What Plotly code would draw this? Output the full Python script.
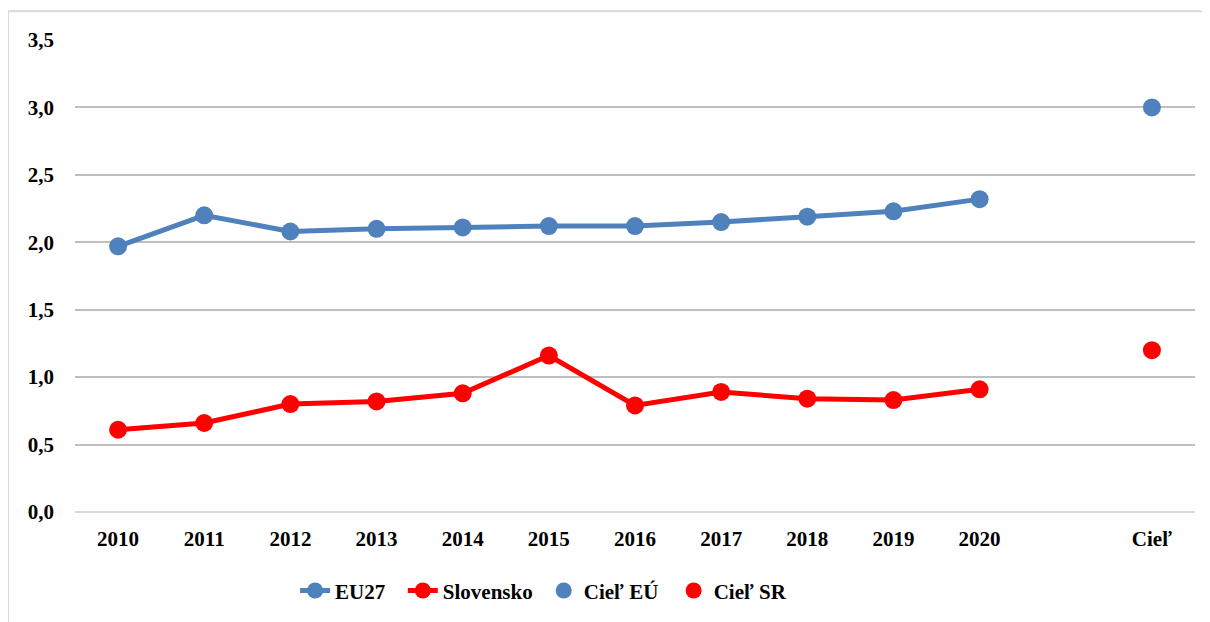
import plotly.graph_objects as go

years = ["2010", "2011", "2012", "2013", "2014", "2015", "2016", "2017", "2018", "2019", "2020"]
gap_label = " "
goal_label = "Cieľ"
categories = years + [gap_label, goal_label]

eu27 = [1.97, 2.20, 2.08, 2.10, 2.11, 2.12, 2.12, 2.15, 2.19, 2.23, 2.32]
slovensko = [0.61, 0.66, 0.80, 0.82, 0.88, 1.16, 0.79, 0.89, 0.84, 0.83, 0.91]
ciel_eu = [3.0]
ciel_sr = [1.2]

y_ticks = [0, 0.5, 1.0, 1.5, 2.0, 2.5, 3.0, 3.5]
y_tick_labels = ["0,0", "0,5", "1,0", "1,5", "2,0", "2,5", "3,0", "3,5"]

blue = "#4F81BD"
red = "#FF0000"
font_family = "Liberation Serif, Times New Roman, serif"
bold_font = dict(family=font_family, size=21, color="black", weight="bold")

fig = go.Figure()
fig.add_trace(go.Scatter(x=years, y=eu27, mode="lines+markers", name="EU27",
                         line=dict(color=blue, width=5), marker=dict(size=18, color=blue),
                         legend="legend"))
fig.add_trace(go.Scatter(x=years, y=slovensko, mode="lines+markers", name="Slovensko",
                         line=dict(color=red, width=5), marker=dict(size=18, color=red),
                         legend="legend2"))
fig.add_trace(go.Scatter(x=[goal_label], y=ciel_eu, mode="markers", name="Cieľ EÚ",
                         marker=dict(size=18, color=blue), legend="legend3"))
fig.add_trace(go.Scatter(x=[goal_label], y=ciel_sr, mode="markers", name="Cieľ SR",
                         marker=dict(size=18, color=red), legend="legend4"))

legend_y = -0.1236
def leg(x):
    return dict(orientation="h", x=x, xanchor="left", y=legend_y, yanchor="top",
                font=bold_font, bgcolor="rgba(0,0,0,0)")

fig.update_layout(
    width=1210, height=622,
    margin=dict(l=67, r=23, t=32, b=118),
    paper_bgcolor="white", plot_bgcolor="white",
    font=bold_font,
    showlegend=True,
    legend=leg(0.1965), legend2=leg(0.2927), legend3=leg(0.4185), legend4=leg(0.5345),
    xaxis=dict(type="category", categoryorder="array", categoryarray=categories,
               tickvals=categories, ticktext=categories,
               showgrid=False, showline=False, zeroline=False, ticks="",
               tickfont=bold_font, ticklabelstandoff=12,
               range=[-0.5, len(categories) - 0.5]),
    yaxis=dict(range=[0, 3.5], tickvals=y_ticks, ticktext=y_tick_labels,
               showgrid=True, gridcolor="#BFBFBF", gridwidth=2,
               zeroline=True, zerolinecolor="#D9D9D9", zerolinewidth=2,
               showline=False, ticks="",
               tickfont=bold_font, ticklabelstandoff=20),
)

fig.add_shape(type="rect", xref="paper", yref="paper",
              x0=-0.0598, x1=1.03, y0=-0.35, y1=1.061,
              line=dict(color="#D9D9D9", width=2), fillcolor="rgba(0,0,0,0)", layer="below")

fig.write_html("out.html")
